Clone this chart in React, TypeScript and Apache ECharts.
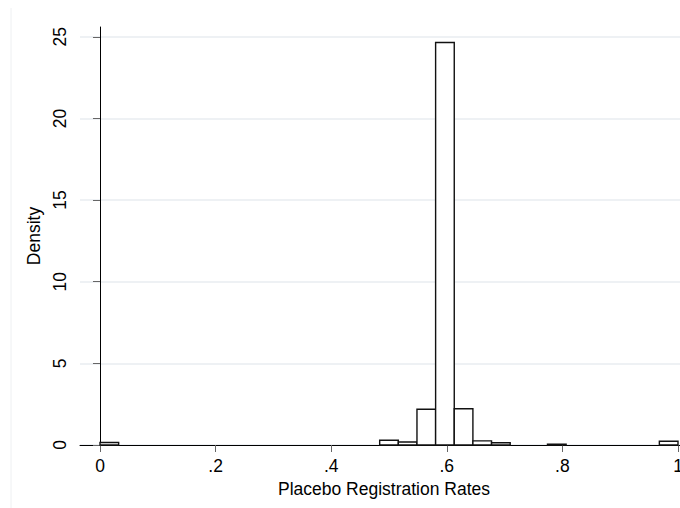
import React, { useEffect, useRef } from "react";
import * as echarts from "echarts";

const binCount = 31;
const binIndex = [0, 15, 16, 17, 18, 19, 20, 21, 24, 30];
const density = [0.15, 0.29, 0.18, 2.19, 24.65, 2.22, 0.25, 0.14, 0.05, 0.23];
const xTickValues = [0, 0.2, 0.4, 0.6, 0.8, 1];
const xTickLabels = ["0", ".2", ".4", ".6", ".8", "1"];
const yTickValues = [0, 5, 10, 15, 20, 25];
const xTitle = "Placebo Registration Rates";
const yTitle = "Density";

const FONT = "'Liberation Sans', Arial, Helvetica, sans-serif";

export default function App() {
  const ref = useRef<HTMLDivElement>(null);
  useEffect(() => {
    if (!ref.current) return;
    const chart = echarts.init(ref.current, null, { renderer: "svg" });
    const w = 1 / binCount;
    const data = binIndex.map((b, i) => [b * w, (b + 1) * w, density[i]]);
    chart.setOption({
      animation: false,
      backgroundColor: "#ffffff",
      grid: {
        left: 80,
        top: 27,
        right: -8,
        bottom: 63,
        containLabel: false,
        outerBoundsMode: "none",
      },
      xAxis: {
        type: "value",
        min: -0.0346,
        max: 1.0173,
        name: xTitle,
        nameLocation: "middle",
        nameGap: 32,
        nameTextStyle: { fontFamily: FONT, fontSize: 17.5, color: "#000" },
        axisLine: { show: true, onZero: false, lineStyle: { color: "#000", width: 1 } },
        axisTick: { show: true, length: 7, customValues: xTickValues, lineStyle: { color: "#666", width: 1 } },
        axisLabel: {
          customValues: xTickValues,
          margin: 12,
          fontFamily: FONT,
          fontSize: 17.5,
          color: "#000",
          hideOverlap: false,
          formatter: (v: number) => {
            const i = xTickValues.findIndex((t) => Math.abs(t - v) < 1e-9);
            return i >= 0 ? xTickLabels[i] : "";
          },
        },
        splitLine: { show: false },
      },
      yAxis: {
        type: "value",
        min: 0,
        max: 25.6,
        name: yTitle,
        nameLocation: "middle",
        nameGap: 30,
        nameTextStyle: { fontFamily: FONT, fontSize: 17.5, color: "#000" },
        axisLine: { show: true, lineStyle: { color: "#000", width: 1 } },
        axisTick: { show: true, length: 7, customValues: yTickValues, lineStyle: { color: "#666", width: 1 } },
        axisLabel: {
          customValues: yTickValues,
          rotate: 90,
          margin: 11,
          fontFamily: FONT,
          fontSize: 17.5,
          color: "#000",
        },
        splitLine: { show: true, lineStyle: { color: "#e8edf0", width: 1.5 } },
      },
      graphic: [
        {
          type: "line",
          shape: { x1: 11, y1: 8, x2: 11, y2: 508 },
          style: { stroke: "#eef0f2", lineWidth: 1 },
          silent: true,
        },
      ],
      series: [
        {
          type: "custom",
          data,
          encode: { x: [0, 1], y: 2 },
          renderItem: (params: any, api: any) => {
            const p0 = api.coord([api.value(0), api.value(2)]);
            const p1 = api.coord([api.value(1), 0]);
            return {
              type: "rect",
              shape: { x: p0[0], y: p0[1], width: p1[0] - p0[0], height: p1[1] - p0[1] },
              style: { fill: "#ffffff", stroke: "#111", lineWidth: 1.4 },
            };
          },
        },
      ],
    });
    return () => chart.dispose();
  }, []);
  return (
    <div
      ref={ref}
      style={{ position: "fixed", left: 0, top: 0, width: 680, height: 508 }}
    />
  );
}
